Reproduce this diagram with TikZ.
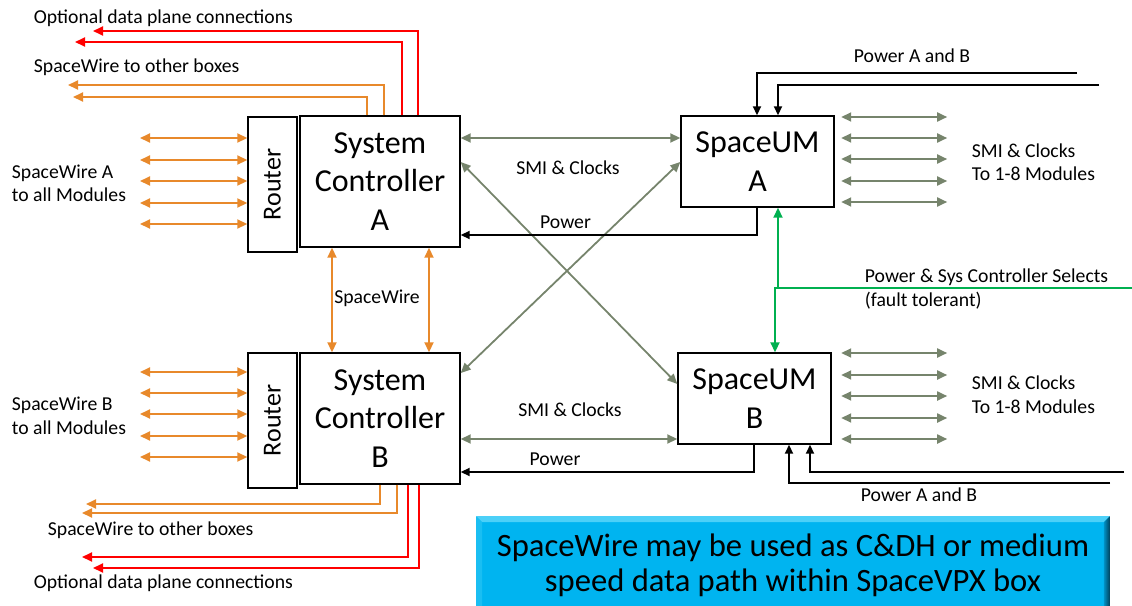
\documentclass[tikz,border=0pt]{standalone}
\usepackage{fontspec}
\setmainfont{Carlito}
\usetikzlibrary{arrows.meta, calc}
\definecolor{swire}{HTML}{E8892B}
\definecolor{dpred}{HTML}{FF0000}
\definecolor{smigray}{HTML}{76846C}
\definecolor{selgreen}{HTML}{00B050}
\definecolor{notecyan}{HTML}{00B4F0}
\definecolor{notelight}{HTML}{4CD0F8}
\definecolor{noteside}{HTML}{1ABEF2}
\definecolor{notedark}{HTML}{0090C4}
\definecolor{noteedge}{HTML}{00405A}

\begin{document}
\begin{tikzpicture}[
        x = 1pt, y = -1pt, % one unit per pixel, y pointing down
        > = {Triangle[length=10pt, width=9pt]}, % arrow head style
        line width = 1.8pt,
        box/.style = {draw = black, line width = 1.4pt, align = center, inner sep = 0pt,
            font = \fontsize{32}{38.5}\selectfont},
        router/.style = {draw = black, line width = 1.4pt, minimum width = 49pt,
            minimum height = 135pt, inner sep = 0pt, font = \fontsize{26}{30}\selectfont},
        notebox/.style = {fill = notecyan, minimum width = 632pt, minimum height = 97pt,
            align = center, inner sep = 0pt, font = \fontsize{32.6}{35}\selectfont},
        lbl/.style = {inner sep = 0pt, font = \fontsize{19.7}{23.7}\selectfont},
        sw/.style = {draw = swire, <->},
        swout/.style = {draw = swire, ->},
        dp/.style = {draw = dpred, ->},
        smi/.style = {draw = smigray, <->},
        pwr/.style = {draw = black, -{Triangle[length=9pt, width=8pt]}},
        sel/.style = {draw = selgreen, ->}
    ]
    \useasboundingbox (0,0) rectangle (1132,605);

    % boxes
    \node[router] (routerA) at (272.5,184.5) {\rotatebox{90}{Router}};
    \node[box, minimum width=160pt, minimum height=131pt] (ctrlA) at (380,181.5) {System\\Controller\\A};
    \node[router] (routerB) at (272.5,420.5) {\rotatebox{90}{Router}};
    \node[box, minimum width=160pt, minimum height=131pt] (ctrlB) at (380,418.5) {System\\Controller\\B};
    \node[box, minimum width=153pt, minimum height=91pt] (umA) at (757.5,161.5) {SpaceUM\\A};
    \node[box, minimum width=153pt, minimum height=91pt] (umB) at (754.5,398.5) {SpaceUM\\B};

    % SpaceWire to all modules
    \foreach \y in {138,160,181,203,224}
        \draw[sw] (140,\y) -- (routerA.west |- 0,\y);
    \foreach \y in {372,393,414,436,457}
        \draw[sw] (140,\y) -- (routerB.west |- 0,\y);

    % SpaceWire between the controllers
    \draw[sw] (ctrlA.south -| 332,0) -- (ctrlB.north -| 332,0);
    \draw[sw] (ctrlA.south -| 429,0) -- (ctrlB.north -| 429,0);

    % other boxes and data plane
    \coordinate (swoA1) at (73,97);
    \coordinate (swoA2) at (68,85);
    \coordinate (dpA1) at (75,42);
    \coordinate (dpA2) at (93,31);
    \draw[swout] (ctrlA.north -| 367,0) |- (swoA1);
    \draw[swout] (ctrlA.north -| 384,0) |- (swoA2);
    \draw[dp] (ctrlA.north -| 402,0) |- (dpA1);
    \draw[dp] (ctrlA.north -| 418,0) |- (dpA2);

    \coordinate (swoB1) at (86,504);
    \coordinate (swoB2) at (82,513);
    \coordinate (dpB1) at (82,557);
    \coordinate (dpB2) at (93,568);
    \draw[swout] (ctrlB.south -| 380,0) |- (swoB1);
    \draw[swout] (ctrlB.south -| 397,0) |- (swoB2);
    \draw[dp] (ctrlB.south -| 408,0) |- (dpB1);
    \draw[dp] (ctrlB.south -| 419,0) |- (dpB2);

    % SMI, clocks and power
    \draw[smi] (ctrlA.east |- 0,138) -- (umA.west |- 0,138);
    \draw[smi] (ctrlA.east |- 0,162) -- (umB.west |- 0,384);
    \draw[smi] (umA.west |- 0,162) -- (ctrlB.east |- 0,373);
    \draw[smi] (ctrlB.east |- 0,439) -- (umB.west |- 0,439);
    \draw[pwr] (umA.south -| 757,0) |- (ctrlA.east |- 0,235);
    \draw[pwr] (umB.south -| 754,0) |- (ctrlB.east |- 0,472);

    \foreach \y in {117,138,159,181,202}
        \draw[smi] ($(umA.east |- 0,\y)+(6.5,0)$) -- ++(106,0);
    \foreach \y in {353,375,396,418,439}
        \draw[smi] ($(umB.east |- 0,\y)+(9.5,0)$) -- ++(106,0);

    % power A and B
    \coordinate (pinA1) at (1077,73);
    \coordinate (pinA2) at (1099,85);
    \draw[pwr] (pinA1) -| (umA.north -| 757,0);
    \draw[pwr] (pinA2) -| (umA.north -| 778,0);
    \coordinate (pinB1) at (1124,472);
    \coordinate (pinB2) at (1110,483);
    \draw[pwr] (pinB1) -| (umB.south -| 810,0);
    \draw[pwr] (pinB2) -| (umB.south -| 789,0);

    % controller selects
    \coordinate (selIn) at (1132,288);
    \coordinate (selJoin) at (778,288);
    \draw[sel] (selIn) -- (775,288) -- (umB.north -| 775,0);
    \draw[sel] (selJoin) -- (umA.south -| 778,0);

    % labels
    \node[lbl, anchor=base west] (optTopTxt) at (33,23.3) {Optional data plane connections};
    \node[lbl, anchor=base west] (swTopTxt) at (33,72) {SpaceWire to other boxes};
    \node[lbl, anchor=west, align=left] (swATxt) at (11,183.4) {SpaceWire A\\to all Modules};
    \node[lbl, anchor=base] (swMidTxt) at (377,303) {SpaceWire};
    \node[lbl, anchor=west, align=left] (swBTxt) at (11,415.5) {SpaceWire B\\to all Modules};
    \node[lbl, anchor=base west] (swBotTxt) at (47,535) {SpaceWire to other boxes};
    \node[lbl, anchor=base west] (optBotTxt) at (33,588) {Optional data plane connections};
    \node[lbl, anchor=base west] (pwrTopTxt) at (853,62.3) {Power A and B};
    \node[lbl, anchor=base] (smiATxt) at (568,174) {SMI \& Clocks};
    \node[lbl, anchor=base] (pwrATxt) at (565.5,228) {Power};
    \node[lbl, anchor=west, align=left] (modATxt) at (971,162.2) {SMI \& Clocks\\To 1-8 Modules};
    \node[lbl, anchor=west, align=left] (selTxt) at (864,288.8) {Power \& Sys Controller Selects\\(fault tolerant)};
    \node[lbl, anchor=base] (smiBTxt) at (570,416.7) {SMI \& Clocks};
    \node[lbl, anchor=base] (pwrBTxt) at (555,465) {Power};
    \node[lbl, anchor=west, align=left] (modBTxt) at (971,394.4) {SMI \& Clocks\\To 1-8 Modules};
    \node[lbl, anchor=base west] (pwrBotTxt) at (860,501.7) {Power A and B};

    % note box
    \node[notebox] (note) at (793,565.5) {SpaceWire may be used as C\&DH or medium\\speed data path within SpaceVPX box};
    \fill[notelight] (note.north west) -- (note.north east) -- ++(-6,6) -- ($(note.north west)+(6,6)$) -- cycle;
    \fill[noteside] (note.north west) -- ($(note.north west)+(6,6)$) -- ($(note.south west)+(6,-6)$) -- (note.south west) -- cycle;
    \shade[left color=notedark, right color=noteedge] (note.north east) -- ($(note.north east)+(-6,6)$) -- ($(note.south east)+(-6,-6)$) -- (note.south east) -- cycle;
\end{tikzpicture}
\end{document}
